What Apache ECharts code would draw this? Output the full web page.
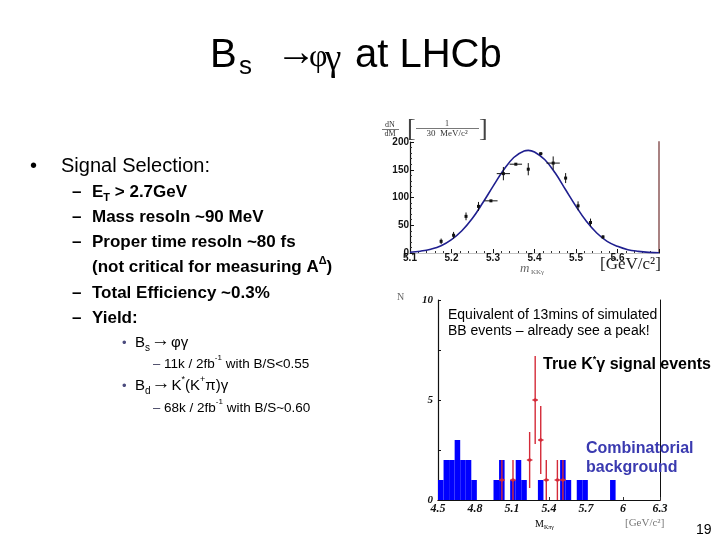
<!DOCTYPE html>
<html><head><meta charset="utf-8">
<script src="https://cdn.jsdelivr.net/npm/echarts@6/dist/echarts.min.js"></script>
<style>html,body{margin:0;padding:0;background:#fff}#c{width:720px;height:540px}</style>
</head><body><div id="c"></div>
<script>
// ---------- Top chart: m(KKγ) distribution, 30 MeV bins ----------
const massCenters = [5.175,5.205,5.235,5.265,5.295,5.325,5.355,5.385,5.415,5.445,5.475,5.505,5.535,5.565];
const massCounts  = [21,32,66,84,94,143,160,151,179,162,135,85,55,29];
const massErrY    = [5,6,7,8,0,12,0,11,2,12,9,8,7,3];
const massErrX    = [0,0,0,0,0.016,0.016,0.015,0,0.004,0.016,0,0,0,0];
// fitted curve
const fitX = [5.100,5.125,5.150,5.175,5.200,5.225,5.250,5.275,5.300,5.325,5.350,5.375,5.385,5.400,5.425,5.450,5.475,5.500,5.525,5.550,5.575,5.600,5.625,5.650,5.675,5.700];
const fitY = [1.4,3.3,6.8,13,24,40,62,90,120,149,172,184,185,182,168,144,114,84,57,36,21,12,6,3,1.2,0.5];
const topXTicks = ['5.1','5.2','5.3','5.4','5.5','5.6'];
const topYTicks = ['0','50','100','150','200'];

// ---------- Bottom chart: M(Kπγ) ----------
const bgLow = 4.5, bgBinWidth = 0.045;
const bgCounts = [1,2,2,3,2,2,1,0,0,0, 1,2,0,1,2,1,0,0,1,0, 0,0,2,1,0,1,1,0,0,0, 0,1,0,0,0,0,0,0,0,0];
const sigMass   = [5.018,5.108,5.243,5.288,5.333,5.378,5.468,5.513];
const sigCounts = [1,1,2,5,3,1,1,1];
const sigErr    = [1,1,1.4,2.2,1.7,1,1,1];
const botXTicks = ['4.5','4.8','5.1','5.4','5.7','6','6.3'];
const botYTicks = ['0','5','10'];

const SANS = '"Liberation Sans", Arial, sans-serif';
const SERIF = '"Liberation Serif", "Times New Roman", serif';
const ARROW = '"Liberation Sans", "DejaVu Sans", sans-serif';

const chart = echarts.init(document.getElementById('c'));

function txt(x, y, text, style) {
  return { type: 'text', x: x, y: y, silent: true, z: 100,
    style: Object.assign({ text: text, fill: '#000', align: 'left', verticalAlign: 'middle' }, style) };
}
const subRich = (size, color, weight) => ({
  n: { fontSize: size, fontFamily: SANS, fontWeight: weight, color: color, lineHeight: size + 6 },
  ar: { fontSize: Math.round(size * 1.25), fontFamily: ARROW, color: color, lineHeight: size + 6, padding: [0, 1, 5, 1] },
  sub: { fontSize: Math.round(size * 0.65), fontFamily: SANS, fontWeight: weight, color: color, lineHeight: Math.round(size*0.55), verticalAlign: 'bottom' },
  sup: { fontSize: Math.round(size * 0.62), fontFamily: SANS, fontWeight: weight, color: color, lineHeight: Math.round(size*0.55), verticalAlign: 'top' },
  blue: { fontSize: size, fontFamily: SANS, fontWeight: weight, color: '#2e2e99', lineHeight: size + 6 },
  bsup: { fontSize: Math.round(size * 0.62), fontFamily: SANS, fontWeight: weight, color: '#2e2e99', lineHeight: Math.round(size*0.55), verticalAlign: 'top' }
});
const r17 = subRich(17, '#000', 'bold');
const r15 = subRich(15, '#4b4b7e', 'normal');
const r13 = subRich(13.5, '#3b3b5b', 'normal');

const graphics = [
  // title
  txt(210, 56, 'B', { font: '40px ' + SANS }),
  txt(239, 67, 's', { font: '26px ' + SANS }),
  txt(276, 54, '→', { font: '40px ' + ARROW }),
  txt(309, 58, 'φ', { font: '32px ' + SERIF }),
  txt(325, 60, 'γ', { font: '37px ' + SERIF }),
  txt(355, 56, 'at LHCb', { font: '40px ' + SANS }),
  // bullets
  txt(30, 166, '•', { font: '20px ' + SANS }),
  txt(61, 166, 'Signal Selection:', { font: '20px ' + SANS }),
  txt(72, 192, '–', { font: 'bold 17px ' + SANS }),
  txt(92, 192, '{n|E}{sub|T}{n| > 2.7GeV}', { rich: r17 }),
  txt(72, 217, '–', { font: 'bold 17px ' + SANS }),
  txt(92, 217, 'Mass resoln ~90 MeV', { font: 'bold 17px ' + SANS }),
  txt(72, 242, '–', { font: 'bold 17px ' + SANS }),
  txt(92, 242, 'Proper time resoln ~80 fs', { font: 'bold 17px ' + SANS }),
  txt(92, 267, '{n|(not critical for measuring }{blue|A}{bsup|Δ}{n|)}', { rich: r17 }),
  txt(72, 293, '–', { font: 'bold 17px ' + SANS }),
  txt(92, 293, 'Total Efficiency ~0.3%', { font: 'bold 17px ' + SANS }),
  txt(72, 318, '–', { font: 'bold 17px ' + SANS }),
  txt(92, 318, 'Yield:', { font: 'bold 17px ' + SANS }),
  txt(122, 343, '•', { font: '13px ' + SANS, fill: '#4b4b7e' }),
  txt(135, 343, '{n|B}{sub|s}{ar|→}{n|φγ}', { rich: r15 }),
  txt(153, 364, '–', { font: '13px ' + SANS, fill: '#3b3b5b' }),
  txt(164, 364, '{n|11k / 2fb}{sup|-1}{n| with B/S<0.55}', { rich: r13 }),
  txt(122, 386, '•', { font: '13px ' + SANS, fill: '#4b4b7e' }),
  txt(135, 386, '{n|B}{sub|d}{ar|→}{n|K}{sup|*}{n|(K}{sup|+}{n|π)γ}', { rich: r15 }),
  txt(153, 408, '–', { font: '13px ' + SANS, fill: '#3b3b5b' }),
  txt(164, 408, '{n|68k / 2fb}{sup|-1}{n| with B/S~0.60}', { rich: r13 }),
  // top chart annotations
  txt(390, 125, 'dN', { font: '8px ' + SERIF, fill: '#333', align: 'center' }),
  { type: 'line', silent: true, shape: { x1: 382, y1: 129.5, x2: 399, y2: 129.5 }, style: { stroke: '#555', lineWidth: 0.8 } },
  txt(390, 134, 'dM', { font: '8px ' + SERIF, fill: '#333', align: 'center' }),
  txt(407, 129, '[', { font: '26px ' + SERIF, fill: '#444' }),
  txt(447, 124, '1', { font: '8px ' + SERIF, fill: '#333', align: 'center' }),
  { type: 'line', silent: true, shape: { x1: 416, y1: 128.5, x2: 479, y2: 128.5 }, style: { stroke: '#555', lineWidth: 0.8 } },
  txt(447, 134, '30  MeV/c²', { font: '9px ' + SERIF, fill: '#333', align: 'center' }),
  txt(479, 129, ']', { font: '26px ' + SERIF, fill: '#444' }),
  txt(520, 269, 'm', { font: 'italic 13px ' + SERIF, fill: '#666' }),
  txt(531, 272, 'KKγ', { font: '7px ' + SERIF, fill: '#666' }),
  txt(600, 265, '[GeV/c²]', { font: '17px ' + SERIF, fill: '#222' }),
  // bottom chart annotations
  txt(397, 297, 'N', { font: '10px ' + SERIF, fill: '#666' }),
  txt(448, 315, 'Equivalent of 13mins of simulated', { font: '14px ' + SANS }),
  txt(448, 331, 'BB events – already see a peak!', { font: '14px ' + SANS }),
  txt(543, 365, '{r|True K}{rs|*}{r|γ signal events}', { rich: {
    r: { fontSize: 16, fontWeight: 'bold', fontFamily: SANS, color: '#c0282e', lineHeight: 20 },
    rs: { fontSize: 9, fontWeight: 'bold', fontFamily: SANS, color: '#c0282e', lineHeight: 9, verticalAlign: 'top' } } }),
  txt(586, 449, 'Combinatorial', { font: 'bold 16px ' + SANS, fill: '#3a3ab0' }),
  txt(586, 468, 'background', { font: 'bold 16px ' + SANS, fill: '#3a3ab0' }),
  txt(535, 524, '{m|M}{s|Kπγ}', { rich: {
    m: { fontSize: 10, fontFamily: SERIF, color: '#888', lineHeight: 12 },
    s: { fontSize: 6, fontFamily: SERIF, color: '#888', lineHeight: 6, verticalAlign: 'bottom' } } }),
  txt(625, 523, '[GeV/c²]', { font: '11px ' + SERIF, fill: '#777' }),
  txt(696, 530, '19', { font: '14px ' + SANS })
];

const hidden = { show: false };
const option = {
  animation: false,
  backgroundColor: '#fff',
  grid: [
    { left: 410, top: 142, width: 249, height: 111 },
    { left: 438, top: 300, width: 222, height: 200 }
  ],
  xAxis: [
    { gridIndex: 0, type: 'value', min: 5.1, max: 5.7, interval: 0.1,
      axisLine: { lineStyle: { color: '#111', width: 1.2 } },
      axisTick: { inside: true, length: 4, lineStyle: { color: '#111' } },
      minorTick: { show: true, splitNumber: 5, length: 2, lineStyle: { color: '#333' } },
      splitLine: hidden, minorSplitLine: hidden,
      axisLabel: { margin: 0, fontSize: 10, fontWeight: 'bold', fontFamily: SANS, color: '#111',
        formatter: v => { const s = v.toFixed(1); return topXTicks.indexOf(s) >= 0 ? s : ''; } } },
    { gridIndex: 0, type: 'value', position: 'top', min: 5.1, max: 5.7,
      axisLine: { show: true, lineStyle: { color: '#c4c4c4', width: 1 } }, axisTick: hidden, axisLabel: hidden, splitLine: hidden },
    { gridIndex: 1, type: 'value', min: 4.5, max: 6.3, interval: 0.3,
      axisLine: { lineStyle: { color: '#d03a48', width: 1.2 } },
      axisTick: { inside: true, length: 3, lineStyle: { color: '#333' } },
      splitLine: hidden,
      axisLabel: { margin: 3, fontSize: 12, fontWeight: 'bold', fontStyle: 'italic', fontFamily: SERIF, color: '#111',
        formatter: v => { const s = String(+v.toFixed(1)); return botXTicks.indexOf(s) >= 0 ? s : ''; } } },
    { gridIndex: 1, type: 'value', position: 'top', min: 4.5, max: 6.3,
      axisLine: { show: true, lineStyle: { color: '#111', width: 1 } }, axisTick: hidden, axisLabel: hidden, splitLine: hidden }
  ],
  yAxis: [
    { gridIndex: 0, type: 'value', min: 0, max: 200, interval: 50,
      axisLine: { show: true, lineStyle: { color: '#111', width: 1.2 } },
      axisTick: { show: true, inside: true, length: 4, lineStyle: { color: '#111' } },
      minorTick: { show: true, splitNumber: 5, length: 2, lineStyle: { color: '#333' } },
      splitLine: hidden, minorSplitLine: hidden,
      axisLabel: { margin: 1, fontSize: 10, fontWeight: 'bold', fontFamily: SANS, color: '#111',
        formatter: v => { const s = String(v); return topYTicks.indexOf(s) >= 0 ? s : ''; } } },
    { gridIndex: 0, type: 'value', position: 'right', min: 0, max: 200,
      axisLine: { show: true, lineStyle: { color: '#a98282', width: 2 } }, axisTick: hidden, axisLabel: hidden, splitLine: hidden },
    { gridIndex: 1, type: 'value', min: 0, max: 10, interval: 2.5,
      axisLine: { show: true, lineStyle: { color: '#111', width: 1.2 } },
      axisTick: { show: true, inside: true, length: 3, lineStyle: { color: '#111' } },
      splitLine: hidden,
      axisLabel: { margin: 5, fontSize: 11, fontWeight: 'bold', fontStyle: 'italic', fontFamily: SERIF, color: '#111',
        formatter: v => { const s = String(v); return botYTicks.indexOf(s) >= 0 ? s : ''; } } },
    { gridIndex: 1, type: 'value', position: 'right', min: 0, max: 10,
      axisLine: { show: true, lineStyle: { color: '#111', width: 1 } }, axisTick: hidden, axisLabel: hidden, splitLine: hidden }
  ],
  series: [
    { type: 'line', xAxisIndex: 0, yAxisIndex: 0, smooth: 0.4, symbol: 'none',
      data: fitX.map((x, i) => [x, fitY[i]]),
      lineStyle: { color: '#1f1f8f', width: 1.6 }, z: 3 },
    { type: 'custom', xAxisIndex: 0, yAxisIndex: 0, encode: { x: 0, y: 1 },
      data: massCenters.map((x, i) => [x, massCounts[i], massErrY[i], massErrX[i]]),
      renderItem: (params, api) => {
        const x = api.value(0), y = api.value(1), ey = api.value(2), ex = api.value(3);
        const c = api.coord([x, y]);
        const st = { stroke: '#111', lineWidth: 1 };
        const ch = [];
        if (ey > 0) { const a = api.coord([x, y - ey]), b = api.coord([x, y + ey]);
          ch.push({ type: 'line', shape: { x1: a[0], y1: a[1], x2: b[0], y2: b[1] }, style: st }); }
        if (ex > 0) { const a = api.coord([x - ex, y]), b = api.coord([x + ex, y]);
          ch.push({ type: 'line', shape: { x1: a[0], y1: a[1], x2: b[0], y2: b[1] }, style: st }); }
        ch.push({ type: 'rect', shape: { x: c[0] - 1.5, y: c[1] - 1.5, width: 3, height: 3 }, style: { fill: '#111' } });
        return { type: 'group', children: ch };
      }, z: 4 },
    { type: 'custom', xAxisIndex: 2, yAxisIndex: 2, encode: { x: [0, 1], y: 2 },
      data: bgCounts.map((c, i) => [bgLow + i * bgBinWidth, bgLow + (i + 1) * bgBinWidth, c]).filter(d => d[2] > 0),
      renderItem: (params, api) => {
        const p0 = api.coord([api.value(0), api.value(2)]);
        const p1 = api.coord([api.value(1), 0]);
        return { type: 'rect', shape: { x: p0[0], y: p0[1], width: p1[0] - p0[0], height: p1[1] - p0[1] }, style: { fill: '#0000ff' } };
      }, z: 2 },
    { type: 'custom', xAxisIndex: 2, yAxisIndex: 2, encode: { x: 0, y: 1 },
      data: sigMass.map((x, i) => [x, sigCounts[i], sigErr[i]]),
      renderItem: (params, api) => {
        const x = api.value(0), y = api.value(1), e = api.value(2);
        const st = { stroke: '#d42a38', lineWidth: 1.4 };
        const a = api.coord([x, Math.max(0, y - e)]), b = api.coord([x, y + e]);
        const l = api.coord([x - bgBinWidth / 2, y]), r = api.coord([x + bgBinWidth / 2, y]);
        const c = api.coord([x, y]);
        return { type: 'group', children: [
          { type: 'line', shape: { x1: a[0], y1: a[1], x2: b[0], y2: b[1] }, style: st },
          { type: 'line', shape: { x1: l[0], y1: l[1], x2: r[0], y2: r[1] }, style: st },
          { type: 'circle', shape: { cx: c[0], cy: c[1], r: 1.8 }, style: { fill: '#d42a38' } }
        ] };
      }, z: 5 }
  ],
  graphic: graphics
};
chart.setOption(option);
</script>
</body></html>
